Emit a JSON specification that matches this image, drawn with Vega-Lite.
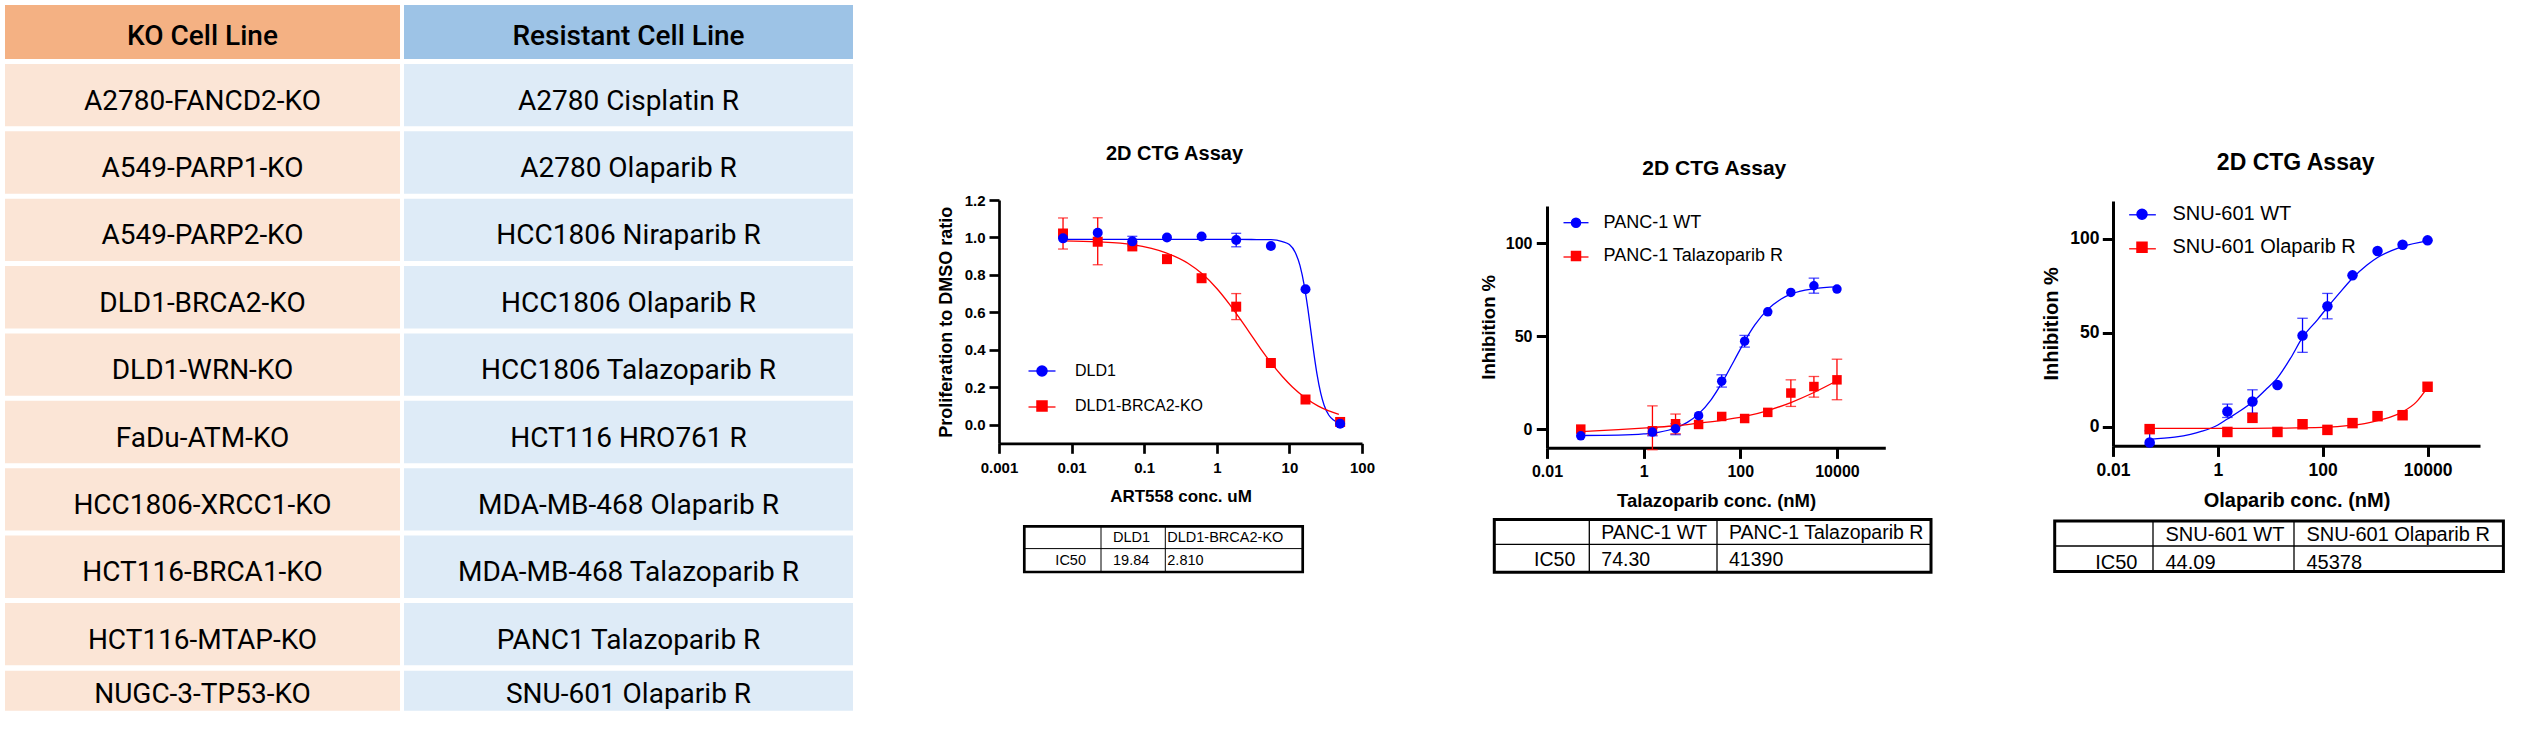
{
"$schema": "https://vega.github.io/schema/vega-lite/v6.json",
"background": "white",
"padding": {"left": 5, "top": 5, "right": 0, "bottom": 0},
"autosize": {"type": "pad"},
"bounds": "flush",
"align": "each",
"columns": 4,
"spacing": 10,
"config": {"view": {"stroke": null}},
"resolve": {"scale": {"color": "independent", "shape": "independent", "stroke": "independent"}, "legend": {"color": "independent", "shape": "independent", "stroke": "independent"}},
"datasets": {
"tbl": [
{"r":0,"ko":"KO Cell Line","res":"Resistant Cell Line"},
{"r":1,"ko":"A2780-FANCD2-KO","res":"A2780 Cisplatin R"},
{"r":2,"ko":"A549-PARP1-KO","res":"A2780 Olaparib R"},
{"r":3,"ko":"A549-PARP2-KO","res":"HCC1806 Niraparib R"},
{"r":4,"ko":"DLD1-BRCA2-KO","res":"HCC1806 Olaparib R"},
{"r":5,"ko":"DLD1-WRN-KO","res":"HCC1806 Talazoparib R"},
{"r":6,"ko":"FaDu-ATM-KO","res":"HCT116 HRO761 R"},
{"r":7,"ko":"HCC1806-XRCC1-KO","res":"MDA-MB-468 Olaparib R"},
{"r":8,"ko":"HCT116-BRCA1-KO","res":"MDA-MB-468 Talazoparib R"},
{"r":9,"ko":"HCT116-MTAP-KO","res":"PANC1 Talazoparib R"},
{"r":10,"ko":"NUGC-3-TP53-KO","res":"SNU-601 Olaparib R"}
],
"p1": [
{"s":"DLD1-BRCA2-KO","x":0.00762,"y":1.021},{"s":"DLD1-BRCA2-KO","x":0.0229,"y":0.977},{"s":"DLD1-BRCA2-KO","x":0.0686,"y":0.952},{"s":"DLD1-BRCA2-KO","x":0.206,"y":0.884},{"s":"DLD1-BRCA2-KO","x":0.617,"y":0.782},{"s":"DLD1-BRCA2-KO","x":1.85,"y":0.63},{"s":"DLD1-BRCA2-KO","x":5.56,"y":0.329},{"s":"DLD1-BRCA2-KO","x":16.67,"y":0.134},{"s":"DLD1-BRCA2-KO","x":50,"y":0.014},
{"s":"DLD1","x":0.00762,"y":0.995},{"s":"DLD1","x":0.0229,"y":1.025},{"s":"DLD1","x":0.0686,"y":0.979},{"s":"DLD1","x":0.206,"y":1.0},{"s":"DLD1","x":0.617,"y":1.005},{"s":"DLD1","x":1.85,"y":0.986},{"s":"DLD1","x":5.56,"y":0.954},{"s":"DLD1","x":16.67,"y":0.723},{"s":"DLD1","x":50,"y":0.004}
],
"e1": [
{"s":"DLD1","x":0.0686,"lo":0.955,"hi":1.006},{"s":"DLD1","x":1.85,"lo":0.95,"hi":1.022},
{"s":"DLD1-BRCA2-KO","x":0.00762,"lo":0.938,"hi":1.104},{"s":"DLD1-BRCA2-KO","x":0.0229,"lo":0.854,"hi":1.105},{"s":"DLD1-BRCA2-KO","x":1.85,"lo":0.561,"hi":0.7}
],
"c1": [
{"s":"DLD1","x":0.0076,"y":0.99},{"s":"DLD1","x":0.1,"y":0.99},{"s":"DLD1","x":1,"y":0.99},{"s":"DLD1","x":3,"y":0.989},{"s":"DLD1","x":5.56,"y":0.988},{"s":"DLD1","x":8,"y":0.978},{"s":"DLD1","x":10,"y":0.962},{"s":"DLD1","x":12,"y":0.921},{"s":"DLD1","x":14,"y":0.849},{"s":"DLD1","x":16,"y":0.744},{"s":"DLD1","x":18,"y":0.617},{"s":"DLD1","x":19.84,"y":0.495},{"s":"DLD1","x":22,"y":0.366},{"s":"DLD1","x":24,"y":0.27},{"s":"DLD1","x":27,"y":0.168},{"s":"DLD1","x":30,"y":0.105},{"s":"DLD1","x":35,"y":0.05},{"s":"DLD1","x":40,"y":0.026},{"s":"DLD1","x":50,"y":0.008},
{"s":"DLD1-BRCA2-KO","x":0.0076,"y":0.982},{"s":"DLD1-BRCA2-KO","x":0.0229,"y":0.977},{"s":"DLD1-BRCA2-KO","x":0.0686,"y":0.962},{"s":"DLD1-BRCA2-KO","x":0.2,"y":0.918},{"s":"DLD1-BRCA2-KO","x":0.4,"y":0.862},{"s":"DLD1-BRCA2-KO","x":0.617,"y":0.808},{"s":"DLD1-BRCA2-KO","x":1,"y":0.727},{"s":"DLD1-BRCA2-KO","x":1.5,"y":0.642},{"s":"DLD1-BRCA2-KO","x":2,"y":0.575},{"s":"DLD1-BRCA2-KO","x":2.81,"y":0.493},{"s":"DLD1-BRCA2-KO","x":4,"y":0.406},{"s":"DLD1-BRCA2-KO","x":5.56,"y":0.331},{"s":"DLD1-BRCA2-KO","x":8,"y":0.257},{"s":"DLD1-BRCA2-KO","x":11,"y":0.201},{"s":"DLD1-BRCA2-KO","x":16.67,"y":0.142},{"s":"DLD1-BRCA2-KO","x":25,"y":0.099},{"s":"DLD1-BRCA2-KO","x":35,"y":0.073},{"s":"DLD1-BRCA2-KO","x":48,"y":0.054}
],
"t1": [
{"r":0,"c":1,"t":"DLD1"},{"r":0,"c":2,"t":"DLD1-BRCA2-KO"},{"r":1,"c":0,"t":"IC50"},{"r":1,"c":1,"t":"19.84"},{"r":1,"c":2,"t":"2.810"}
],
"p2": [
{"s":"PANC-1 Talazoparib R","x":0.05,"y":0},{"s":"PANC-1 Talazoparib R","x":1.52,"y":-0.9},{"s":"PANC-1 Talazoparib R","x":4.57,"y":2.9},{"s":"PANC-1 Talazoparib R","x":13.7,"y":2.5},{"s":"PANC-1 Talazoparib R","x":41.2,"y":6.8},{"s":"PANC-1 Talazoparib R","x":123,"y":5.7},{"s":"PANC-1 Talazoparib R","x":370,"y":9.0},{"s":"PANC-1 Talazoparib R","x":1111,"y":19.4},{"s":"PANC-1 Talazoparib R","x":3333,"y":22.9},{"s":"PANC-1 Talazoparib R","x":10000,"y":26.5},
{"s":"PANC-1 WT","x":0.05,"y":-3.6},{"s":"PANC-1 WT","x":1.52,"y":-1.6},{"s":"PANC-1 WT","x":4.57,"y":0.2},{"s":"PANC-1 WT","x":13.7,"y":7.2},{"s":"PANC-1 WT","x":41.2,"y":25.8},{"s":"PANC-1 WT","x":123,"y":47.3},{"s":"PANC-1 WT","x":370,"y":63.1},{"s":"PANC-1 WT","x":1111,"y":73.5},{"s":"PANC-1 WT","x":3333,"y":77.1},{"s":"PANC-1 WT","x":10000,"y":75.3}
],
"e2": [
{"s":"PANC-1 WT","x":1.52,"lo":-3.6,"hi":0.5},{"s":"PANC-1 WT","x":4.57,"lo":-3.0,"hi":2.9},{"s":"PANC-1 WT","x":41.2,"lo":22.6,"hi":29.2},{"s":"PANC-1 WT","x":123,"lo":44.1,"hi":50.4},{"s":"PANC-1 WT","x":3333,"lo":73.1,"hi":81.2},
{"s":"PANC-1 Talazoparib R","x":1.52,"lo":-11.1,"hi":12.5},{"s":"PANC-1 Talazoparib R","x":4.57,"lo":-2.5,"hi":8.1},{"s":"PANC-1 Talazoparib R","x":1111,"lo":12.2,"hi":26.5},{"s":"PANC-1 Talazoparib R","x":3333,"lo":17.2,"hi":28.3},{"s":"PANC-1 Talazoparib R","x":10000,"lo":15.8,"hi":37.6}
],
"c2": [
{"s":"PANC-1 WT","x":0.05,"y":-3.45},{"s":"PANC-1 WT","x":0.3,"y":-3.25},{"s":"PANC-1 WT","x":1,"y":-2.6},{"s":"PANC-1 WT","x":2,"y":-1.7},{"s":"PANC-1 WT","x":4.57,"y":0.6},{"s":"PANC-1 WT","x":8,"y":3.6},{"s":"PANC-1 WT","x":13.7,"y":8.2},{"s":"PANC-1 WT","x":25,"y":15.9},{"s":"PANC-1 WT","x":41.2,"y":24.7},{"s":"PANC-1 WT","x":74.3,"y":36.8},{"s":"PANC-1 WT","x":123,"y":47.2},{"s":"PANC-1 WT","x":200,"y":56},{"s":"PANC-1 WT","x":370,"y":64.4},{"s":"PANC-1 WT","x":700,"y":70},{"s":"PANC-1 WT","x":1111,"y":72.6},{"s":"PANC-1 WT","x":3333,"y":75.5},{"s":"PANC-1 WT","x":10000,"y":76.5},
{"s":"PANC-1 Talazoparib R","x":0.05,"y":-1.3},{"s":"PANC-1 Talazoparib R","x":0.3,"y":-0.3},{"s":"PANC-1 Talazoparib R","x":1.52,"y":0.9},{"s":"PANC-1 Talazoparib R","x":4.57,"y":1.8},{"s":"PANC-1 Talazoparib R","x":13.7,"y":3.2},{"s":"PANC-1 Talazoparib R","x":41.2,"y":4.7},{"s":"PANC-1 Talazoparib R","x":123,"y":6.8},{"s":"PANC-1 Talazoparib R","x":370,"y":10},{"s":"PANC-1 Talazoparib R","x":1111,"y":14.3},{"s":"PANC-1 Talazoparib R","x":3333,"y":19.7},{"s":"PANC-1 Talazoparib R","x":10000,"y":26}
],
"t2": [
{"r":0,"c":1,"t":"PANC-1 WT"},{"r":0,"c":2,"t":"PANC-1 Talazoparib R"},{"r":1,"c":0,"t":"IC50"},{"r":1,"c":1,"t":"74.30"},{"r":1,"c":2,"t":"41390"}
],
"p3": [
{"s":"SNU-601 Olaparib R","x":0.05,"y":-1.2},{"s":"SNU-601 Olaparib R","x":1.52,"y":-2.7},{"s":"SNU-601 Olaparib R","x":4.57,"y":4.8},{"s":"SNU-601 Olaparib R","x":13.7,"y":-2.7},{"s":"SNU-601 Olaparib R","x":41.2,"y":1.4},{"s":"SNU-601 Olaparib R","x":123,"y":-1.6},{"s":"SNU-601 Olaparib R","x":370,"y":2.0},{"s":"SNU-601 Olaparib R","x":1111,"y":5.7},{"s":"SNU-601 Olaparib R","x":3333,"y":6.2},{"s":"SNU-601 Olaparib R","x":10000,"y":21.3},
{"s":"SNU-601 WT","x":0.05,"y":-8.3},{"s":"SNU-601 WT","x":1.52,"y":8.2},{"s":"SNU-601 WT","x":4.57,"y":13.5},{"s":"SNU-601 WT","x":13.7,"y":22.2},{"s":"SNU-601 WT","x":41.2,"y":48.5},{"s":"SNU-601 WT","x":123,"y":64.1},{"s":"SNU-601 WT","x":370,"y":80.5},{"s":"SNU-601 WT","x":1111,"y":93.4},{"s":"SNU-601 WT","x":3333,"y":96.8},{"s":"SNU-601 WT","x":10000,"y":99.1}
],
"e3": [
{"s":"SNU-601 WT","x":0.05,"lo":-9.2,"hi":-2.1},{"s":"SNU-601 WT","x":1.52,"lo":5.0,"hi":12.1},{"s":"SNU-601 WT","x":4.57,"lo":7.3,"hi":19.7},{"s":"SNU-601 WT","x":41.2,"lo":39.6,"hi":57.7},{"s":"SNU-601 WT","x":123,"lo":57.4,"hi":70.9}
],
"c3": [
{"s":"SNU-601 WT","x":0.05,"y":-6.6},{"s":"SNU-601 WT","x":0.15,"y":-5.5},{"s":"SNU-601 WT","x":0.3,"y":-4},{"s":"SNU-601 WT","x":0.5,"y":-2.3},{"s":"SNU-601 WT","x":0.75,"y":-0.6},{"s":"SNU-601 WT","x":1,"y":1},{"s":"SNU-601 WT","x":1.52,"y":4.2},{"s":"SNU-601 WT","x":2.5,"y":8},{"s":"SNU-601 WT","x":4.57,"y":13.2},{"s":"SNU-601 WT","x":8,"y":19.5},{"s":"SNU-601 WT","x":13.7,"y":26},{"s":"SNU-601 WT","x":25,"y":37},{"s":"SNU-601 WT","x":41.2,"y":47.5},{"s":"SNU-601 WT","x":80,"y":57},{"s":"SNU-601 WT","x":123,"y":63.5},{"s":"SNU-601 WT","x":200,"y":70.5},{"s":"SNU-601 WT","x":370,"y":79},{"s":"SNU-601 WT","x":700,"y":86},{"s":"SNU-601 WT","x":1111,"y":90},{"s":"SNU-601 WT","x":2000,"y":93.5},{"s":"SNU-601 WT","x":3333,"y":95.8},{"s":"SNU-601 WT","x":10000,"y":98.8},
{"s":"SNU-601 Olaparib R","x":0.05,"y":-0.8},{"s":"SNU-601 Olaparib R","x":1,"y":-0.8},{"s":"SNU-601 Olaparib R","x":10,"y":-0.7},{"s":"SNU-601 Olaparib R","x":100,"y":-0.3},{"s":"SNU-601 Olaparib R","x":370,"y":0.9},{"s":"SNU-601 Olaparib R","x":700,"y":2},{"s":"SNU-601 Olaparib R","x":1111,"y":3.3},{"s":"SNU-601 Olaparib R","x":2000,"y":5.3},{"s":"SNU-601 Olaparib R","x":3333,"y":8},{"s":"SNU-601 Olaparib R","x":6000,"y":13},{"s":"SNU-601 Olaparib R","x":10000,"y":21}
],
"t3": [
{"r":0,"c":1,"t":"SNU-601 WT"},{"r":0,"c":2,"t":"SNU-601 Olaparib R"},{"r":1,"c":0,"t":"IC50"},{"r":1,"c":1,"t":"44.09"},{"r":1,"c":2,"t":"45378"}
]
},
"concat": [
{
"width": 984, "height": 442.7,
"data": {"name": "tbl"},
"resolve": {"scale": {"x": "independent", "y": "independent"}},
"layer": [
{"transform": [{"filter": "datum.r == 0"}],
 "encoding": {"x": {"datum": "KO", "type": "nominal", "scale": {"type": "band", "domain": ["KO"], "range": [0, 395], "paddingInner": 0, "paddingOuter": 0}, "axis": null},
  "y": {"field": "r", "type": "ordinal", "scale": {"domain": [0], "range": [0, 54], "paddingInner": 0, "paddingOuter": 0}, "axis": null}},
 "layer": [{"mark": {"type": "rect", "fill": "#F4B183"}},
  {"mark": {"type": "text", "font": "Roboto", "fontSize": 28, "fontWeight": 500, "color": "black", "baseline": "alphabetic", "dy": 13}, "encoding": {"text": {"field": "ko"}}}]},
{"transform": [{"filter": "datum.r >= 1 && datum.r <= 9"}],
 "encoding": {"x": {"datum": "KO", "type": "nominal", "scale": {"type": "band", "domain": ["KO"], "range": [0, 395], "paddingInner": 0, "paddingOuter": 0}, "axis": null},
  "y": {"field": "r", "type": "ordinal", "scale": {"domain": [1,2,3,4,5,6,7,8,9], "range": [59, 660.3], "paddingInner": 0.0742, "paddingOuter": 0}, "axis": null}},
 "layer": [{"mark": {"type": "rect", "fill": "#FBE5D6"}},
  {"mark": {"type": "text", "font": "Roboto", "fontSize": 28, "color": "black", "baseline": "alphabetic", "dy": 14.5}, "encoding": {"text": {"field": "ko"}}}]},
{"transform": [{"filter": "datum.r == 10"}],
 "encoding": {"x": {"datum": "KO", "type": "nominal", "scale": {"type": "band", "domain": ["KO"], "range": [0, 395], "paddingInner": 0, "paddingOuter": 0}, "axis": null},
  "y": {"field": "r", "type": "ordinal", "scale": {"domain": [10], "range": [665.7, 705.7], "paddingInner": 0, "paddingOuter": 0}, "axis": null}},
 "layer": [{"mark": {"type": "rect", "fill": "#FBE5D6"}},
  {"mark": {"type": "text", "font": "Roboto", "fontSize": 28, "color": "black", "baseline": "alphabetic", "dy": 12}, "encoding": {"text": {"field": "ko"}}}]},
{"transform": [{"filter": "datum.r == 0"}],
 "encoding": {"x": {"datum": "R", "type": "nominal", "scale": {"type": "band", "domain": ["R"], "range": [399, 848], "paddingInner": 0, "paddingOuter": 0}, "axis": null},
  "y": {"field": "r", "type": "ordinal", "scale": {"domain": [0], "range": [0, 54], "paddingInner": 0, "paddingOuter": 0}, "axis": null}},
 "layer": [{"mark": {"type": "rect", "fill": "#9DC3E6"}},
  {"mark": {"type": "text", "font": "Roboto", "fontSize": 28, "fontWeight": 500, "color": "black", "baseline": "alphabetic", "dy": 13}, "encoding": {"text": {"field": "res"}}}]},
{"transform": [{"filter": "datum.r >= 1 && datum.r <= 9"}],
 "encoding": {"x": {"datum": "R", "type": "nominal", "scale": {"type": "band", "domain": ["R"], "range": [399, 848], "paddingInner": 0, "paddingOuter": 0}, "axis": null},
  "y": {"field": "r", "type": "ordinal", "scale": {"domain": [1,2,3,4,5,6,7,8,9], "range": [59, 660.3], "paddingInner": 0.0742, "paddingOuter": 0}, "axis": null}},
 "layer": [{"mark": {"type": "rect", "fill": "#DEEBF7"}},
  {"mark": {"type": "text", "font": "Roboto", "fontSize": 28, "color": "black", "baseline": "alphabetic", "dy": 14.5}, "encoding": {"text": {"field": "res"}}}]},
{"transform": [{"filter": "datum.r == 10"}],
 "encoding": {"x": {"datum": "R", "type": "nominal", "scale": {"type": "band", "domain": ["R"], "range": [399, 848], "paddingInner": 0, "paddingOuter": 0}, "axis": null},
  "y": {"field": "r", "type": "ordinal", "scale": {"domain": [10], "range": [665.7, 705.7], "paddingInner": 0, "paddingOuter": 0}, "axis": null}},
 "layer": [{"mark": {"type": "rect", "fill": "#DEEBF7"}},
  {"mark": {"type": "text", "font": "Roboto", "fontSize": 28, "color": "black", "baseline": "alphabetic", "dy": 12}, "encoding": {"text": {"field": "res"}}}]}
]
},
{
"width": 537.7, "height": 438.3,
"title": {"text": "2D CTG Assay", "anchor": "start", "frame": "group", "align": "center", "dx": 175.5, "dy": 163, "font": "Liberation Sans", "fontSize": 20, "fontWeight": "bold", "color": "black"},
"encoding": {
 "x": {"field": "x", "type": "quantitative", "scale": {"type": "log", "domain": [0.001, 100], "range": [0, 363], "nice": false},
  "axis": {"title": "ART558 conc. uM", "values": [0.001, 0.01, 0.1, 1, 10, 100], "format": "~g", "grid": false, "domainColor": "black", "domainWidth": 2.7, "tickColor": "black", "tickWidth": 2.7, "tickSize": 10, "labelFont": "Liberation Sans", "labelFontWeight": "bold", "labelFontSize": 15, "labelColor": "black", "labelPadding": 7, "labelFlush": false, "labelOverlap": false, "titleFont": "Liberation Sans", "titleFontWeight": "bold", "titleFontSize": 17, "titleColor": "black", "titlePadding": 13}},
 "y": {"field": "y", "type": "quantitative", "scale": {"domain": [-0.1, 1.2], "range": [438.3, 195], "nice": false, "zero": false},
  "axis": {"title": "Proliferation to DMSO ratio", "values": [0, 0.2, 0.4, 0.6, 0.8, 1, 1.2], "format": ".1f", "grid": false, "domainColor": "black", "domainWidth": 2.7, "tickColor": "black", "tickWidth": 2.7, "tickSize": 10, "labelFont": "Liberation Sans", "labelFontWeight": "bold", "labelFontSize": 15, "labelColor": "black", "labelPadding": 4, "labelFlush": false, "labelOverlap": false, "titleFont": "Liberation Sans", "titleFontWeight": "bold", "titleFontSize": 18, "titleColor": "black", "titlePadding": 9}},
 "color": {"field": "s", "type": "nominal", "scale": {"domain": ["DLD1", "DLD1-BRCA2-KO"], "range": ["#0000FF", "#FF0000"]},
    "legend": {"orient": "none", "legendX": 35, "legendY": 358, "title": null, "padding": 0, "labelFont": "Liberation Sans", "labelFontSize": 16, "labelColor": "black", "labelLimit": 400, "symbolSize": 100, "symbolOpacity": 1, "labelOffset": 25, "rowPadding": 19}}
},
"layer": [
 {"data": {"name": "c1"}, "mark": {"type": "line", "strokeWidth": 1.3, "interpolate": "monotone"},
  "encoding": {"stroke": {"field": "s", "type": "nominal", "scale": {"domain": ["DLD1-BRCA2-KO", "DLD1"], "range": ["#FF0000", "#0000FF"]},
   "legend": {"orient": "none", "legendX": 28.5, "legendY": 351.5, "title": null, "padding": 0, "values": ["DLD1", "DLD1-BRCA2-KO"], "symbolType": "stroke", "symbolSize": 729, "symbolStrokeWidth": 1.3, "labelExpr": "' '", "labelFont": "Liberation Sans", "labelFontSize": 29, "labelOffset": 0, "rowPadding": 6}}}},
 {"data": {"name": "e1"}, "mark": {"type": "rule", "strokeWidth": 1.3},
  "encoding": {"y": {"field": "lo", "type": "quantitative"}, "y2": {"field": "hi"}}},
 {"data": {"name": "e1"}, "mark": {"type": "tick", "orient": "horizontal", "size": 10, "thickness": 1.3},
  "encoding": {"y": {"field": "lo", "type": "quantitative"}}},
 {"data": {"name": "e1"}, "mark": {"type": "tick", "orient": "horizontal", "size": 10, "thickness": 1.3},
  "encoding": {"y": {"field": "hi", "type": "quantitative"}}},
 {"data": {"name": "p1"}, "mark": {"type": "point", "filled": true, "opacity": 1, "size": 100},
  "encoding": {"shape": {"field": "s", "type": "nominal", "scale": {"domain": ["DLD1", "DLD1-BRCA2-KO"], "range": ["circle", "square"]}}}}
]
},
{
"width": 555.6, "height": 442.7,
"title": {"text": "2D CTG Assay", "anchor": "start", "frame": "group", "align": "center", "dx": 167.3, "dy": 177.6, "font": "Liberation Sans", "fontSize": 21, "fontWeight": "bold", "color": "black"},
"encoding": {
 "x": {"field": "x", "type": "quantitative", "scale": {"type": "log", "domain": [0.01, 100000], "range": [0, 338.3], "nice": false},
  "axis": {"title": "Talazoparib conc. (nM)", "values": [0.01, 1, 100, 10000], "format": "~g", "grid": false, "domainColor": "black", "domainWidth": 3, "tickColor": "black", "tickWidth": 3, "tickSize": 10.7, "labelFont": "Liberation Sans", "labelFontWeight": "bold", "labelFontSize": 16, "labelColor": "black", "labelPadding": 5.5, "labelFlush": false, "labelOverlap": false, "titleFont": "Liberation Sans", "titleFontWeight": "bold", "titleFontSize": 18.5, "titleColor": "black", "titlePadding": 11.8}},
 "y": {"field": "y", "type": "quantitative", "scale": {"domain": [-10, 120], "range": [442.7, 201], "nice": false, "zero": false},
  "axis": {"title": "Inhibition %", "values": [0, 50, 100], "grid": false, "domainColor": "black", "domainWidth": 3, "tickColor": "black", "tickWidth": 3, "tickSize": 10.7, "labelFont": "Liberation Sans", "labelFontWeight": "bold", "labelFontSize": 16, "labelColor": "black", "labelPadding": 4.3, "labelFlush": false, "labelOverlap": false, "titleFont": "Liberation Sans", "titleFontWeight": "bold", "titleFontSize": 18.5, "titleColor": "black", "titlePadding": 7}},
 "color": {"field": "s", "type": "nominal", "scale": {"domain": ["PANC-1 WT", "PANC-1 Talazoparib R"], "range": ["#0000FF", "#FF0000"]},
    "legend": {"orient": "none", "legendX": 20, "legendY": 208.7, "title": null, "padding": 0, "labelFont": "Liberation Sans", "labelFontSize": 18, "labelColor": "black", "labelLimit": 400, "symbolSize": 81, "symbolOpacity": 1, "labelOffset": 18.5, "rowPadding": 15.3}}
},
"layer": [
 {"data": {"name": "c2"}, "mark": {"type": "line", "strokeWidth": 1.3, "interpolate": "monotone"},
  "encoding": {"stroke": {"field": "s", "type": "nominal", "scale": {"domain": ["PANC-1 Talazoparib R", "PANC-1 WT"], "range": ["#FF0000", "#0000FF"]},
   "legend": {"orient": "none", "legendX": 15.5, "legendY": 204.2, "title": null, "padding": 0, "values": ["PANC-1 WT", "PANC-1 Talazoparib R"], "symbolType": "stroke", "symbolSize": 625, "symbolStrokeWidth": 1.3, "labelExpr": "' '", "labelFont": "Liberation Sans", "labelFontSize": 27, "labelOffset": 0, "rowPadding": 6.3}}}},
 {"data": {"name": "e2"}, "mark": {"type": "rule", "strokeWidth": 1.3},
  "encoding": {"y": {"field": "lo", "type": "quantitative"}, "y2": {"field": "hi"}}},
 {"data": {"name": "e2"}, "mark": {"type": "tick", "orient": "horizontal", "size": 10.5, "thickness": 1.3},
  "encoding": {"y": {"field": "lo", "type": "quantitative"}}},
 {"data": {"name": "e2"}, "mark": {"type": "tick", "orient": "horizontal", "size": 10.5, "thickness": 1.3},
  "encoding": {"y": {"field": "hi", "type": "quantitative"}}},
 {"data": {"name": "p2"}, "mark": {"type": "point", "filled": true, "opacity": 1, "size": 90},
  "encoding": {"shape": {"field": "s", "type": "nominal", "scale": {"domain": ["PANC-1 WT", "PANC-1 Talazoparib R"], "range": ["circle", "square"]}}}}
]
},
{
"width": 367, "height": 440.7,
"title": {"text": "2D CTG Assay", "anchor": "start", "frame": "group", "align": "center", "dx": 182.7, "dy": 174.3, "font": "Liberation Sans", "fontSize": 23, "fontWeight": "bold", "color": "black"},
"encoding": {
 "x": {"field": "x", "type": "quantitative", "scale": {"type": "log", "domain": [0.01, 100000], "range": [0, 367], "nice": false},
  "axis": {"title": "Olaparib conc. (nM)", "values": [0.01, 1, 100, 10000], "format": "~g", "grid": false, "domainColor": "black", "domainWidth": 3, "tickColor": "black", "tickWidth": 3, "tickSize": 10.7, "labelFont": "Liberation Sans", "labelFontWeight": "bold", "labelFontSize": 17.5, "labelColor": "black", "labelPadding": 5, "labelFlush": false, "labelOverlap": false, "titleFont": "Liberation Sans", "titleFontWeight": "bold", "titleFontSize": 20, "titleColor": "black", "titlePadding": 12}},
 "y": {"field": "y", "type": "quantitative", "scale": {"domain": [-10, 120], "range": [440.7, 196], "nice": false, "zero": false},
  "axis": {"title": "Inhibition %", "values": [0, 50, 100], "grid": false, "domainColor": "black", "domainWidth": 3, "tickColor": "black", "tickWidth": 3, "tickSize": 10.7, "labelFont": "Liberation Sans", "labelFontWeight": "bold", "labelFontSize": 17.5, "labelColor": "black", "labelPadding": 3.3, "labelFlush": false, "labelOverlap": false, "titleFont": "Liberation Sans", "titleFontWeight": "bold", "titleFontSize": 20, "titleColor": "black", "titlePadding": 8}},
 "color": {"field": "s", "type": "nominal", "scale": {"domain": ["SNU-601 WT", "SNU-601 Olaparib R"], "range": ["#0000FF", "#FF0000"]},
    "legend": {"orient": "none", "legendX": 19, "legendY": 199.3, "title": null, "padding": 0, "labelFont": "Liberation Sans", "labelFontSize": 20, "labelColor": "black", "labelLimit": 400, "symbolSize": 100, "symbolOpacity": 1, "labelOffset": 20.4, "rowPadding": 13}}
},
"layer": [
 {"data": {"name": "c3"}, "mark": {"type": "line", "strokeWidth": 1.3, "interpolate": "monotone"},
  "encoding": {"stroke": {"field": "s", "type": "nominal", "scale": {"domain": ["SNU-601 Olaparib R", "SNU-601 WT"], "range": ["#FF0000", "#0000FF"]},
   "legend": {"orient": "none", "legendX": 15, "legendY": 195.3, "title": null, "padding": 0, "values": ["SNU-601 WT", "SNU-601 Olaparib R"], "symbolType": "stroke", "symbolSize": 713, "symbolStrokeWidth": 1.3, "labelExpr": "' '", "labelFont": "Liberation Sans", "labelFontSize": 28, "labelOffset": 0, "rowPadding": 5}}}},
 {"data": {"name": "e3"}, "mark": {"type": "rule", "strokeWidth": 1.3},
  "encoding": {"y": {"field": "lo", "type": "quantitative"}, "y2": {"field": "hi"}}},
 {"data": {"name": "e3"}, "mark": {"type": "tick", "orient": "horizontal", "size": 10.5, "thickness": 1.3},
  "encoding": {"y": {"field": "lo", "type": "quantitative"}}},
 {"data": {"name": "e3"}, "mark": {"type": "tick", "orient": "horizontal", "size": 10.5, "thickness": 1.3},
  "encoding": {"y": {"field": "hi", "type": "quantitative"}}},
 {"data": {"name": "p3"}, "mark": {"type": "point", "filled": true, "opacity": 1, "size": 110},
  "encoding": {"shape": {"field": "s", "type": "nominal", "scale": {"domain": ["SNU-601 WT", "SNU-601 Olaparib R"], "range": ["circle", "square"]}}}}
]
},
{
"width": 10, "height": 10,
"data": {"values": [{}]},
"mark": {"type": "point", "opacity": 0}
},
{
"width": 300, "height": 120,
"data": {"name": "t1"},
"layer": [
 {"data": {"values": [{}]}, "mark": {"type": "rect", "fill": "white", "stroke": "black", "strokeWidth": 2.7},
  "encoding": {"x": {"datum": 0, "type": "quantitative", "scale": {"domain": [0,1,2,3], "range": [25.3, 102, 166.3, 303.7], "zero": false, "nice": false}, "axis": null}, "x2": {"datum": 3},
   "y": {"datum": 0, "type": "quantitative", "scale": {"domain": [0,1,2], "range": [68.3, 90.6, 114], "zero": false, "nice": false}, "axis": null}, "y2": {"datum": 2}}},
 {"data": {"values": [{}]}, "mark": {"type": "rule", "color": "black", "strokeWidth": 1},
  "encoding": {"x": {"datum": 1, "type": "quantitative", "axis": null}, "y": {"datum": 0, "type": "quantitative", "axis": null}, "y2": {"datum": 2}}},
 {"data": {"values": [{}]}, "mark": {"type": "rule", "color": "black", "strokeWidth": 1},
  "encoding": {"x": {"datum": 2, "type": "quantitative", "axis": null}, "y": {"datum": 0, "type": "quantitative", "axis": null}, "y2": {"datum": 2}}},
 {"data": {"values": [{}]}, "mark": {"type": "rule", "color": "black", "strokeWidth": 1},
  "encoding": {"x": {"datum": 0, "type": "quantitative", "axis": null}, "x2": {"datum": 3}, "y": {"datum": 1, "type": "quantitative", "axis": null}}},
 {"transform": [{"filter": "datum.c == 1"}], "mark": {"type": "text", "align": "left", "baseline": "middle", "dx": 12, "dy": 12, "font": "Liberation Sans", "fontSize": 14.5, "color": "black"},
  "encoding": {"x": {"field": "c", "type": "quantitative", "axis": null}, "y": {"field": "r", "type": "quantitative", "axis": null}, "text": {"field": "t"}}},
 {"transform": [{"filter": "datum.c == 2"}], "mark": {"type": "text", "align": "left", "baseline": "middle", "dx": 2, "dy": 12, "font": "Liberation Sans", "fontSize": 14.5, "color": "black"},
  "encoding": {"x": {"field": "c", "type": "quantitative", "axis": null}, "y": {"field": "r", "type": "quantitative", "axis": null}, "text": {"field": "t"}}},
 {"transform": [{"filter": "datum.c == 0"}], "mark": {"type": "text", "align": "right", "baseline": "middle", "dx": -15, "dy": 12, "font": "Liberation Sans", "fontSize": 14.5, "color": "black"},
  "encoding": {"x": {"datum": 1, "type": "quantitative", "axis": null}, "y": {"field": "r", "type": "quantitative", "axis": null}, "text": {"field": "t"}}}
]
},
{
"width": 300, "height": 120,
"data": {"name": "t2"},
"layer": [
 {"data": {"values": [{}]}, "mark": {"type": "rect", "fill": "white", "stroke": "black", "strokeWidth": 3},
  "encoding": {"x": {"datum": 0, "type": "quantitative", "scale": {"domain": [0,1,2,3], "range": [-52.7, 42.3, 170, 384], "zero": false, "nice": false}, "axis": null}, "x2": {"datum": 3},
   "y": {"datum": 0, "type": "quantitative", "scale": {"domain": [0,1,2], "range": [61.6, 86.3, 114.3], "zero": false, "nice": false}, "axis": null}, "y2": {"datum": 2}}},
 {"data": {"values": [{}]}, "mark": {"type": "rule", "color": "black", "strokeWidth": 1.3},
  "encoding": {"x": {"datum": 1, "type": "quantitative", "axis": null}, "y": {"datum": 0, "type": "quantitative", "axis": null}, "y2": {"datum": 2}}},
 {"data": {"values": [{}]}, "mark": {"type": "rule", "color": "black", "strokeWidth": 1.3},
  "encoding": {"x": {"datum": 2, "type": "quantitative", "axis": null}, "y": {"datum": 0, "type": "quantitative", "axis": null}, "y2": {"datum": 2}}},
 {"data": {"values": [{}]}, "mark": {"type": "rule", "color": "black", "strokeWidth": 1.3},
  "encoding": {"x": {"datum": 0, "type": "quantitative", "axis": null}, "x2": {"datum": 3}, "y": {"datum": 1, "type": "quantitative", "axis": null}}},
 {"transform": [{"filter": "datum.r == 0"}], "mark": {"type": "text", "align": "left", "baseline": "middle", "dx": 12, "dy": 13, "font": "Liberation Sans", "fontSize": 19.5, "color": "black"},
  "encoding": {"x": {"field": "c", "type": "quantitative", "axis": null}, "y": {"field": "r", "type": "quantitative", "axis": null}, "text": {"field": "t"}}},
 {"transform": [{"filter": "datum.r == 1 && datum.c > 0"}], "mark": {"type": "text", "align": "left", "baseline": "middle", "dx": 12, "dy": 16, "font": "Liberation Sans", "fontSize": 19.5, "color": "black"},
  "encoding": {"x": {"field": "c", "type": "quantitative", "axis": null}, "y": {"field": "r", "type": "quantitative", "axis": null}, "text": {"field": "t"}}},
 {"transform": [{"filter": "datum.c == 0"}], "mark": {"type": "text", "align": "right", "baseline": "middle", "dx": -14, "dy": 16, "font": "Liberation Sans", "fontSize": 19.5, "color": "black"},
  "encoding": {"x": {"datum": 1, "type": "quantitative", "axis": null}, "y": {"field": "r", "type": "quantitative", "axis": null}, "text": {"field": "t"}}}
]
},
{
"width": 300, "height": 120,
"data": {"name": "t3"},
"layer": [
 {"data": {"values": [{}]}, "mark": {"type": "rect", "fill": "white", "stroke": "black", "strokeWidth": 3},
  "encoding": {"x": {"datum": 0, "type": "quantitative", "scale": {"domain": [0,1,2,3], "range": [-58.3, 40, 181, 390.4], "zero": false, "nice": false}, "axis": null}, "x2": {"datum": 3},
   "y": {"datum": 0, "type": "quantitative", "scale": {"domain": [0,1,2], "range": [63, 88, 113.6], "zero": false, "nice": false}, "axis": null}, "y2": {"datum": 2}}},
 {"data": {"values": [{}]}, "mark": {"type": "rule", "color": "black", "strokeWidth": 1.3},
  "encoding": {"x": {"datum": 1, "type": "quantitative", "axis": null}, "y": {"datum": 0, "type": "quantitative", "axis": null}, "y2": {"datum": 2}}},
 {"data": {"values": [{}]}, "mark": {"type": "rule", "color": "black", "strokeWidth": 1.3},
  "encoding": {"x": {"datum": 2, "type": "quantitative", "axis": null}, "y": {"datum": 0, "type": "quantitative", "axis": null}, "y2": {"datum": 2}}},
 {"data": {"values": [{}]}, "mark": {"type": "rule", "color": "black", "strokeWidth": 1.3},
  "encoding": {"x": {"datum": 0, "type": "quantitative", "axis": null}, "x2": {"datum": 3}, "y": {"datum": 1, "type": "quantitative", "axis": null}}},
 {"transform": [{"filter": "datum.r == 0"}], "mark": {"type": "text", "align": "left", "baseline": "middle", "dx": 12.5, "dy": 13.5, "font": "Liberation Sans", "fontSize": 20, "color": "black"},
  "encoding": {"x": {"field": "c", "type": "quantitative", "axis": null}, "y": {"field": "r", "type": "quantitative", "axis": null}, "text": {"field": "t"}}},
 {"transform": [{"filter": "datum.r == 1 && datum.c > 0"}], "mark": {"type": "text", "align": "left", "baseline": "middle", "dx": 12.5, "dy": 17, "font": "Liberation Sans", "fontSize": 20, "color": "black"},
  "encoding": {"x": {"field": "c", "type": "quantitative", "axis": null}, "y": {"field": "r", "type": "quantitative", "axis": null}, "text": {"field": "t"}}},
 {"transform": [{"filter": "datum.c == 0"}], "mark": {"type": "text", "align": "right", "baseline": "middle", "dx": -15.6, "dy": 17, "font": "Liberation Sans", "fontSize": 20, "color": "black"},
  "encoding": {"x": {"datum": 1, "type": "quantitative", "axis": null}, "y": {"field": "r", "type": "quantitative", "axis": null}, "text": {"field": "t"}}}
]
}
]
}
